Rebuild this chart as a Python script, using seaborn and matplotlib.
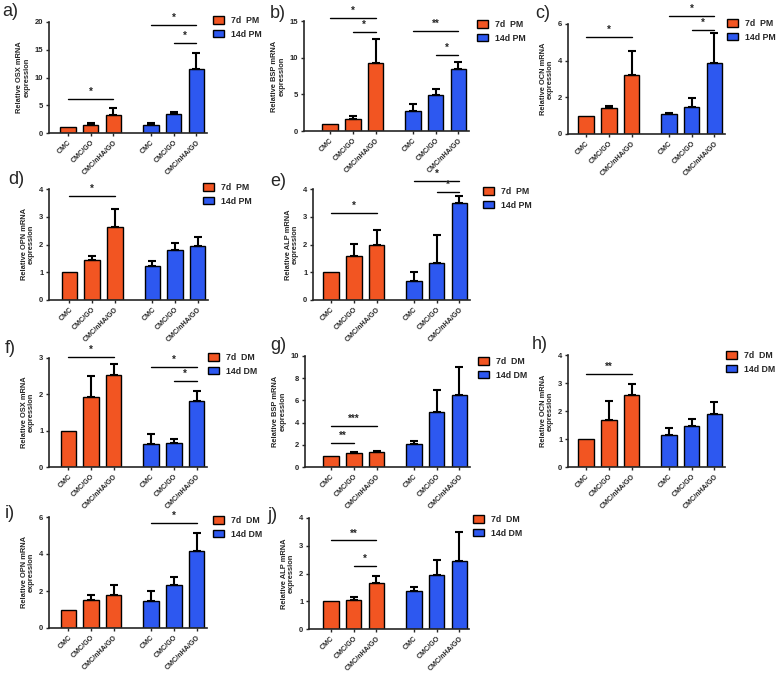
import numpy as np
import pandas as pd
import matplotlib
matplotlib.use("Agg")
import matplotlib.pyplot as plt
import seaborn as sns

sns.set_style("ticks")
plt.rcParams['font.family'] = ['Liberation Sans', 'DejaVu Sans']

# x categories (3 scaffolds at 7d, then the same 3 at 14d)
materials = ["CMC", "CMC/GO", "CMC/nHA/GO"]

# mean values and upper SD: [7d x3, 14d x3]
osx_pm_mean = [1.0, 1.4, 3.2, 1.45, 3.4, 11.5]
osx_pm_sd = [0, 0.4, 1.3, 0.35, 0.3, 2.9]
bsp_pm_mean = [1.0, 1.7, 9.3, 2.75, 4.85, 8.5]
bsp_pm_sd = [0, 0.4, 3.2, 0.9, 0.9, 0.9]
ocn_pm_mean = [1.0, 1.42, 3.2, 1.08, 1.45, 3.88]
ocn_pm_sd = [0, 0.1, 1.35, 0.07, 0.5, 1.62]
opn_pm_mean = [1.0, 1.43, 2.64, 1.23, 1.8, 1.94]
opn_pm_sd = [0, 0.17, 0.63, 0.17, 0.24, 0.34]
alp_pm_mean = [1.0, 1.58, 2.0, 0.7, 1.34, 3.48]
alp_pm_sd = [0, 0.44, 0.52, 0.32, 1.0, 0.26]
osx_dm_mean = [1.0, 1.93, 2.54, 0.63, 0.65, 1.83]
osx_dm_sd = [0, 0.57, 0.29, 0.28, 0.13, 0.26]
bsp_dm_mean = [1.0, 1.27, 1.38, 2.1, 5.0, 6.45]
bsp_dm_sd = [0, 0.06, 0.08, 0.2, 1.97, 2.55]
ocn_dm_mean = [1.0, 1.69, 2.56, 1.15, 1.47, 1.9]
ocn_dm_sd = [0, 0.66, 0.4, 0.24, 0.25, 0.42]
opn_dm_mean = [1.0, 1.49, 1.81, 1.45, 2.32, 4.17]
opn_dm_sd = [0, 0.29, 0.51, 0.55, 0.45, 0.98]
alp_dm_mean = [1.0, 1.05, 1.67, 1.37, 1.94, 2.46]
alp_dm_sd = [0, 0.12, 0.25, 0.13, 0.54, 1.03]

# significance brackets: (bar from, bar to, height, label)
sig_osx_pm = [(0, 2, 6.2, "*"), (3, 5, 19.5, "*"), (4, 5, 16.2, "*")]
sig_bsp_pm = [(0, 2, 15.45, "*"), (1, 2, 13.5, "*"), (3, 5, 13.6, "**"), (4, 5, 10.4, "*")]
sig_ocn_pm = [(0, 2, 5.3, "*"), (3, 5, 6.45, "*"), (4, 5, 5.67, "*")]
sig_opn_pm = [(0, 2, 3.75, "*")]
sig_alp_pm = [(0, 2, 3.13, "*"), (3, 5, 4.3, "*"), (4, 5, 3.88, "*")]
sig_osx_dm = [(0, 2, 3.03, "*"), (3, 5, 2.75, "*"), (4, 5, 2.36, "*")]
sig_bsp_dm = [(0, 1, 2.16, "**"), (0, 2, 3.7, "***")]
sig_ocn_dm = [(0, 2, 3.32, "**")]
sig_opn_dm = [(3, 5, 5.7, "*")]
sig_alp_dm = [(0, 2, 3.19, "**"), (1, 2, 2.28, "*")]

ORANGE = "#F25522"
BLUE = "#2D58F0"
W, H = 779, 673

# bar positions on the x axis (gap between the two time points)
pos = np.r_[np.arange(3), np.arange(3) + 3.65]
UNIT = 22.7  # px per x unit

# layout in pixels: spine x, left pad (units), top, bottom, legend x/y, letter x/y
panels = [
    ("a)", "OSX", "PM", osx_pm_mean, osx_pm_sd, sig_osx_pm, 20, 5, 49, 0.84, 22, 133, 213, 22, 2, 12),
    ("b)", "BSP", "PM", bsp_pm_mean, bsp_pm_sd, sig_bsp_pm, 15, 5, 304, 1.15, 21, 131, 477, 26, 270, 13),
    ("c)", "OCN", "PM", ocn_pm_mean, ocn_pm_sd, sig_ocn_pm, 6, 2, 568, 0.8, 24, 134, 727, 25, 535, 13),
    ("d)", "OPN", "PM", opn_pm_mean, opn_pm_sd, sig_opn_pm, 4, 1, 49, 0.9, 189, 300, 203, 189, 8, 180),
    ("e)", "ALP", "PM", alp_pm_mean, alp_pm_sd, sig_alp_pm, 4, 1, 313, 0.8, 189, 300, 483, 193, 270, 182),
    ("f)", "OSX", "DM", osx_dm_mean, osx_dm_sd, sig_osx_dm, 3, 1, 49, 0.85, 358, 467, 208, 359, 5, 348),
    ("g)", "BSP", "DM", bsp_dm_mean, bsp_dm_sd, sig_bsp_dm, 10, 2, 305, 1.15, 356, 467, 478, 363, 270, 346),
    ("h)", "OCN", "DM", ocn_dm_mean, ocn_dm_sd, sig_ocn_dm, 4, 1, 568, 0.8, 355, 467, 726, 357, 532, 345),
    ("i)", "OPN", "DM", opn_dm_mean, opn_dm_sd, sig_opn_dm, 6, 2, 49, 0.85, 517, 628, 213, 522, 5, 514),
    ("j)", "ALP", "DM", alp_dm_mean, alp_dm_sd, sig_alp_dm, 4, 1, 309, 0.97, 518, 629, 473, 521, 267, 516),
]

fig = plt.figure(figsize=(W / 100, H / 100), dpi=100)
XR = 6.1

for (letter, gene, medium, mean, sd, sigs, ymax, ystep,
     sx, pad, top, bot, lx, ly, tx, ty) in panels:
    width_px = (XR + pad) * UNIT
    ax = fig.add_axes([sx / W, 1 - bot / H, width_px / W, (bot - top) / H])

    groups = [f"7d  {medium}"] * 3 + [f"14d {medium}"] * 3
    df = pd.DataFrame({"pos": pos, "val": mean, "grp": groups})
    sns.barplot(data=df, x="pos", y="val", hue="grp", native_scale=True, dodge=False,
                palette=[ORANGE, BLUE], saturation=1, edgecolor="black", linewidth=1.0,
                errorbar=None, width=0.68, ax=ax)

    # upper-only error bars (skip the normalised controls)
    m = np.array(mean)
    s = np.array(sd)
    k = s > 0
    ax.errorbar(pos[k], m[k], yerr=[np.zeros(k.sum()), s[k]], fmt="none",
                ecolor="black", elinewidth=1.5, capsize=3.2, capthick=1.5, zorder=1)

    for i, j, y, lab in sigs:
        ax.plot([pos[i], pos[j]], [y, y], color="black", lw=1.0, clip_on=False)
        ax.annotate(lab, ((pos[i] + pos[j]) / 2, y), xytext=(0, 1.5),
                    textcoords="offset points", ha="center", va="bottom",
                    fontsize=7, fontweight="bold", annotation_clip=False)

    ax.set_xlim(-pad, XR)
    ax.set_ylim(0, ymax)
    ax.set_yticks(np.arange(0, ymax + ystep / 2, ystep))
    ax.set_xticks(pos)
    ax.set_xticklabels(materials * 2, rotation=45, ha="right", rotation_mode="anchor",
                       fontsize=5.1, fontweight="bold")
    for t in ax.get_yticklabels():
        t.set_fontweight("bold")
        t.set_fontsize(5.5)
    ax.tick_params(axis="both", length=2.5, width=1.0, pad=1.5)
    ax.set_xlabel("")
    ax.set_ylabel(f"Relative {gene} mRNA\nexpression", fontsize=5.4,
                  fontweight="bold", labelpad=3, linespacing=1.1)
    sns.despine(ax=ax)
    for sp in ["left", "bottom"]:
        ax.spines[sp].set_linewidth(1.2)

    sns.move_legend(ax, "upper left", bbox_to_anchor=(lx / W, 1 - (ly - 6) / H),
                    bbox_transform=fig.transFigure, title=None, frameon=False,
                    handlelength=1.3, handleheight=0.9, handletextpad=0.8,
                    labelspacing=0.55, borderpad=0, borderaxespad=0,
                    prop={"weight": "bold", "size": 6.3})
    for hnd in ax.get_legend().legend_handles:
        hnd.set_edgecolor("black")
        hnd.set_linewidth(1.0)

    fig.text(tx / W, 1 - ty / H, letter, fontsize=13, ha="left", va="center")

fig.savefig("out.png", dpi=100)
